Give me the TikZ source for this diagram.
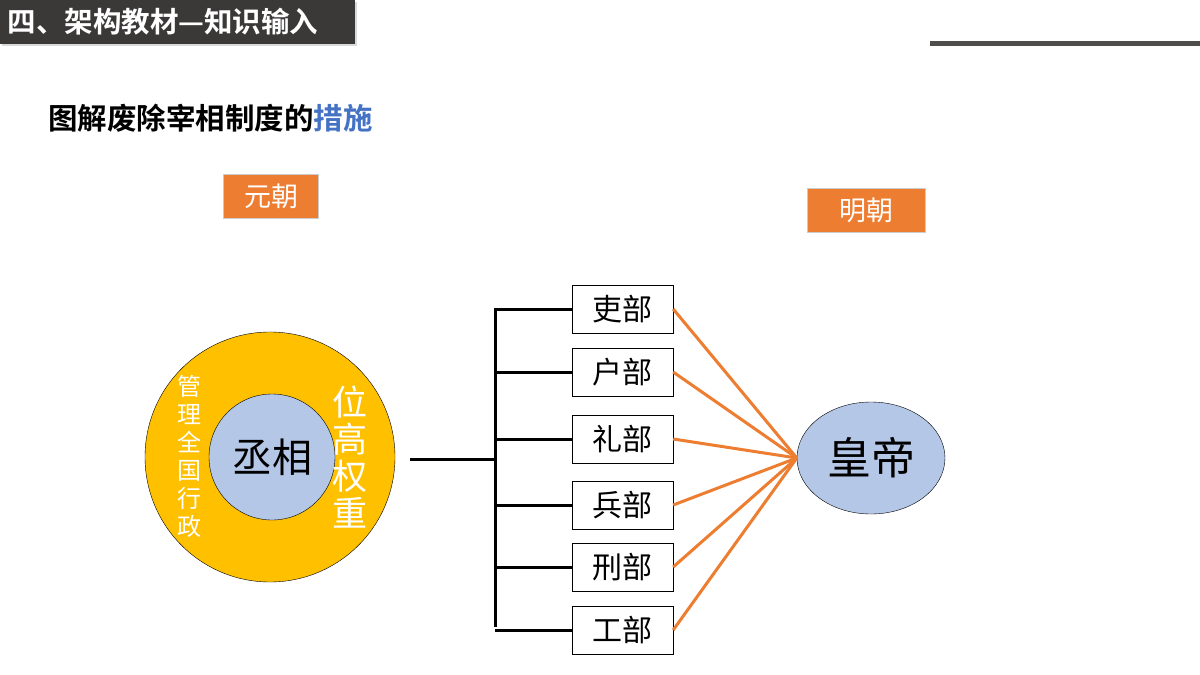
\documentclass[tikz,border=0pt]{standalone}
\usepackage{fontspec}
\newfontfamily\cjk{Noto Sans CJK SC}
\newfontfamily\cjkb{Noto Sans CJK SC Bold}
\usetikzlibrary{shapes.geometric,shadows}
\definecolor{hdr}{HTML}{3B3838}
\definecolor{org}{HTML}{ED7D31}
\definecolor{yel}{HTML}{FFC000}
\definecolor{lb}{HTML}{B4C7E7}
\definecolor{bl}{HTML}{4472C4}
\begin{document}
\begin{tikzpicture}[x=1pt,y=-1pt,
  dept/.style={draw=black,fill=white,minimum width=101pt,minimum height=48pt,inner sep=0pt,font=\cjk\fontsize{30}{30}\selectfont},
  tag/.style={fill=org,draw=black!20,minimum width=95pt,minimum height=44pt,text=white,font=\cjk\fontsize{27}{27}\selectfont},
  ol/.style={org,line width=3pt},
  bk/.style={black,line width=3pt}]
\useasboundingbox (0,0) rectangle (1200,675);
\node[fill=hdr,minimum width=355pt,minimum height=44pt,anchor=north west,inner sep=0pt,drop shadow={shadow xshift=2pt,shadow yshift=-2pt,opacity=.3}] (h) at (0,0) {};
\node[text=white,font=\cjkb\fontsize{28.5}{28.5}\selectfont,anchor=west] (ht) at (4,22) {四、架构教材—知识输入};
\draw[hdr!90,line width=5pt] (930,43) coordinate (l1) -- (1200,43) coordinate (l2);
\node[anchor=west,font=\cjkb\fontsize{29.5}{29.5}\selectfont,inner sep=0pt] (t) at (48,118) {图解废除宰相制度的\textcolor{bl}{措施}};
\node[tag] (yuan) at (271,196) {元朝};
\node[tag,minimum width=118pt] (ming) at (866,210) {明朝};
\node[circle,draw=black,fill=yel,minimum size=250pt] (outer) at (270,457) {};
\node[circle,draw=black,fill=lb,minimum size=126pt,font=\cjk\fontsize{40}{40}\selectfont] (inner) at (272,457) {丞相};
\node[text=white,font=\cjk\fontsize{24}{28}\selectfont,align=center,text width=26pt] (lt) at (189,456) {管\\理\\全\\国\\行\\政};
\node[text=white,font=\cjk\fontsize{35}{37}\selectfont,align=center,text width=38pt] (rt) at (350,457) {位\\高\\权\\重};
\coordinate (s) at (410,459);
\coordinate (j) at (495,459);
\coordinate (top) at (495,308);
\coordinate (bot) at (495,627);
\draw[bk] (s) -- (j);
\draw[bk] (top) -- (bot);
\node[ellipse,draw=black,fill=lb,minimum width=148pt,minimum height=112pt,font=\cjk\fontsize{44}{44}\selectfont] (emp) at (871,458) {皇帝};
\foreach \n/\t/\y in {a/吏部/309,b/户部/372,c/礼部/439,d/兵部/505,e/刑部/567,f/工部/630}{
  \node[dept] (\n) at (622.5,\y) {\t};
  \coordinate (\n l) at (495,\y);
  \draw[bk] (\n l) -- (\n.west);
  \draw[ol] (\n.east) -- (emp.west);
}
\end{tikzpicture}
\end{document}
